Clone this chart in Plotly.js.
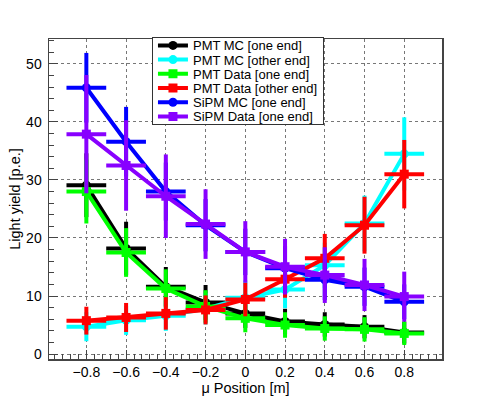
<!DOCTYPE html>
<html>
<head>
<meta charset="utf-8">
<script src="https://cdn.plot.ly/plotly-3.0.1.min.js"></script>
<style>
  html, body { margin: 0; padding: 0; background: #fff; }
  #chart { width: 491px; height: 399px; }
</style>
</head>
<body>
<div id="chart"></div>
<script>
// muon position along the bar [m]
const positions = [-0.8, -0.6, -0.4, -0.2, 0, 0.2, 0.4, 0.6, 0.8];
const posErr = 0.1;

// light yield [p.e.] per series, with errors
const pmtMcOne = [29.1, 18.2, 11.6, 8.9, 7.0, 5.6, 5.1, 4.7, 3.7];
const pmtMcOneErr = [5.5, 4.6, 3.4, 3.0, 2.5, 2.2, 2.1, 2.0, 1.9];

const pmtMcOther = [4.7, 5.8, 6.6, 7.8, 9.7, 11.1, 15.3, 22.5, 34.5];
const pmtMcOtherErr = [2.5, 2.5, 2.6, 2.7, 3.0, 3.2, 3.9, 4.8, 6.3];

const pmtDataOne = [28.0, 17.5, 11.3, 8.2, 6.15, 5.0, 4.4, 4.25, 3.55];
const pmtDataOneErr = [5.5, 4.2, 3.3, 2.8, 2.4, 2.2, 2.1, 2.1, 2.0];

const pmtDataOther = [5.75, 6.3, 7.0, 7.6, 9.4, 12.9, 16.5, 22.2, 31.0];
const pmtDataOtherErr = [2.4, 2.5, 2.8, 2.5, 2.9, 3.2, 4.2, 4.9, 5.9];

const sipmMcOne = [45.9, 36.6, 28.0, 22.2, 17.6, 14.8, 12.8, 11.6, 9.0];
const sipmMcOneErr = [6.0, 6.0, 5.0, 4.5, 4.0, 3.8, 3.5, 3.3, 3.0];

const sipmDataOne = [37.9, 32.5, 27.2, 22.4, 17.6, 15.05, 13.6, 11.9, 9.9];
const sipmDataOneErr = [10.2, 7.8, 7.2, 6.0, 5.3, 4.8, 4.8, 4.5, 4.3];

const seriesNames = [
    'PMT MC [one end]',
    'PMT MC [other end]',
    'PMT Data [one end]',
    'PMT Data [other end]',
    'SiPM MC [one end]',
    'SiPM Data [one end]'
];

// build one trace in the ROOT "PL" style: thick line, marker, error crosses
function makeTrace(name, y, yErr, color, symbol) {
    return {
        x: positions,
        y: y,
        name: name,
        type: 'scatter',
        mode: 'lines+markers',
        line: { color: color, width: 4 },
        marker: { color: color, symbol: symbol, size: 9 },
        error_x: { type: 'constant', value: posErr, color: color, thickness: 4, width: 0 },
        error_y: { type: 'data', array: yErr, color: color, thickness: 4, width: 0 },
    };
}

const data = [
    makeTrace(seriesNames[0], pmtMcOne, pmtMcOneErr, '#000000', 'circle'),
    makeTrace(seriesNames[1], pmtMcOther, pmtMcOtherErr, '#00ffff', 'circle'),
    makeTrace(seriesNames[2], pmtDataOne, pmtDataOneErr, '#00ff00', 'square'),
    makeTrace(seriesNames[3], pmtDataOther, pmtDataOtherErr, '#ff0000', 'square'),
    makeTrace(seriesNames[4], sipmMcOne, sipmMcOneErr, '#0000ff', 'circle'),
    makeTrace(seriesNames[5], sipmDataOne, sipmDataOneErr, '#8800ff', 'square'),
];

const layout = {
    width: 491,
    height: 399,
    margin: { l: 49, r: 49, t: 39, b: 40 },
    paper_bgcolor: '#ffffff',
    plot_bgcolor: '#ffffff',
    font: { family: 'Liberation Sans, Arial, sans-serif', size: 14, color: '#000' },
    showlegend: true,
    legend: {
        x: 0.262, y: 1.005, xanchor: 'left', yanchor: 'top',
        bgcolor: '#ffffff', bordercolor: '#333', borderwidth: 1,
        font: { size: 13 },
        tracegroupgap: 0,
    },
    xaxis: {
        title: { text: 'μ Position [m]', font: { size: 14.5 }, standoff: 0 },
        range: [-0.988, 0.99],
        tickvals: [-0.8, -0.6, -0.4, -0.2, 0, 0.2, 0.4, 0.6, 0.8],
        ticktext: ['−0.8', '−0.6', '−0.4', '−0.2', '0', '0.2', '0.4', '0.6', '0.8'],
        ticks: 'inside', ticklen: 9, tickcolor: '#444',
        minor: { dtick: 0.04, tick0: 0, ticks: 'inside', ticklen: 5, tickcolor: '#444', showgrid: false },
        showgrid: true, gridcolor: '#777', griddash: 'dot', gridwidth: 1,
        zeroline: false,
        showline: true, linecolor: '#444', linewidth: 1.5, mirror: true,
    },
    yaxis: {
        title: { text: 'Light yield [p.e.]', font: { size: 14.5 }, standoff: 2 },
        range: [-0.86, 54.3],
        tickvals: [0, 10, 20, 30, 40, 50],
        ticks: 'inside', ticklen: 9, tickcolor: '#444',
        ticklabelstandoff: 3,
        minor: { dtick: 2, tick0: 0, ticks: 'inside', ticklen: 5, tickcolor: '#444', showgrid: false },
        showgrid: true, gridcolor: '#777', griddash: 'dot', gridwidth: 1,
        zeroline: false,
        showline: true, linecolor: '#444', linewidth: 1.5, mirror: true,
    },
};

// ROOT packs legend rows tighter than plotly allows, so squeeze them after drawing
function tightenLegend(gd) {
    const rowStep = 14.2;
    const rows = gd.querySelectorAll('.legend .traces');
    rows.forEach((row, i) => {
        const m = /translate\(([^,]+),/.exec(row.getAttribute('transform') || '');
        const x = m ? m[1] : 1;
        row.setAttribute('transform', 'translate(' + x + ',' + (8 + rowStep * i) + ')');
    });
    const boxHeight = 8 + rowStep * (rows.length - 1) + 8;
    gd.querySelectorAll('.legend rect.bg').forEach(r => r.setAttribute('height', boxHeight));
}

Plotly.newPlot('chart', data, layout, { staticPlot: true }).then(tightenLegend);
</script>
</body>
</html>
